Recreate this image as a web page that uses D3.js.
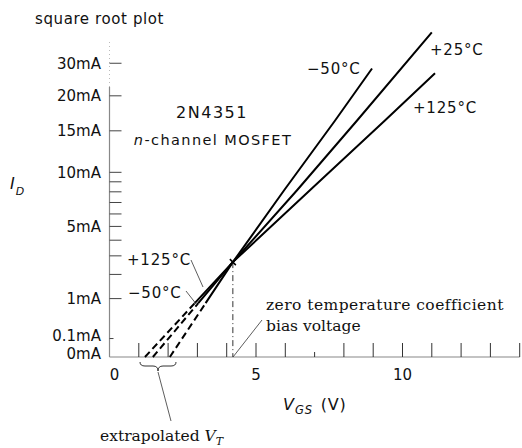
<!DOCTYPE html>
<html><head><meta charset="utf-8">
<script src="https://cdn.jsdelivr.net/npm/d3@7"></script>
<style>
body{margin:0;background:#fff;}
svg{display:block;}
.sans{font-family:"DejaVu Sans",sans-serif;fill:#111;}
.serif{font-family:"DejaVu Serif",serif;fill:#111;}
</style></head>
<body>
<svg id="chart" width="522" height="448"></svg>
<script>
// ---- data ----
const seriesNames = ["−50°C", "+25°C", "+125°C"];
const vgsM50  = [2.06, 3.28, 4.21, 5.96, 7.70, 8.96];
const idM50   = [0, 0.85, 2.64, 8.15, 16.4, 24.4];
const vgsP25  = [1.48, 3.03, 4.21, 6.40, 8.45, 11.0];
const idP25   = [0, 0.85, 2.64, 8.15, 16.4, 30.9];
const vgsP125 = [1.21, 2.91, 4.21, 6.84, 9.40, 11.11];
const idP125  = [0, 0.85, 2.64, 8.15, 16.4, 23.6];
const extrapolatedCount = 2;          // first points of each series are extrapolated (dashed)
const zeroTcV = 4.21, zeroTcI = 2.64; // zero temperature coefficient point

const xTickValues = [1,2,3,4,5,6,7,8,9,10,11,12,13,14];
const xLabelValues = [0, 5, 10];
const yTickValues = [0, 0.1, 1, 5, 10, 15, 20, 25.3];
const yTickLabels = ["0mA","0.1mA","1mA","5mA","10mA","15mA","20mA","30mA"];
const yMinorTicks = [2,3,4,6,7,8,9];

// ---- scales ----
const x = d3.scaleLinear().domain([0, 14]).range([109.5, 519.7]);
const y = d3.scaleSqrt().domain([0, 36]).range([357, 6.6]);

const svg = d3.select("#chart");

// title
svg.append("text").attr("class","sans").attr("x",35).attr("y",24)
  .attr("font-size",15).attr("letter-spacing",0.6).text("square root plot");

// y axis line
svg.append("line").attr("x1",x(0)).attr("x2",x(0)).attr("y1",y(0)).attr("y2",87)
  .attr("stroke","#888").attr("stroke-width",1.2);
svg.append("line").attr("x1",x(0)).attr("x2",x(0)).attr("y1",87).attr("y2",40)
  .attr("stroke","#bbb").attr("stroke-width",1).attr("stroke-dasharray","1,3");
// x axis line
svg.append("line").attr("x1",x(0)).attr("x2",x(14)).attr("y1",y(0)).attr("y2",y(0))
  .attr("stroke","#888").attr("stroke-width",1.2);

// y ticks
svg.append("g").selectAll("line").data(yTickValues.slice(1)).join("line")
  .attr("x1",x(0)).attr("x2",(d)=> d===0.1 ? x(0)+4 : x(0)+12)
  .attr("y1",d=>y(d)).attr("y2",d=>y(d)).attr("stroke","#444").attr("stroke-width",1);
svg.append("g").selectAll("line").data(yMinorTicks).join("line")
  .attr("x1",x(0)).attr("x2",x(0)+12)
  .attr("y1",d=>y(d)).attr("y2",d=>y(d)).attr("stroke","#444").attr("stroke-width",1);
svg.append("g").selectAll("text").data(yTickValues).join("text")
  .attr("class","sans").attr("font-size",15).attr("text-anchor","end")
  .attr("x",101).attr("y",(d)=>y(d) + (d<0.5 ? -3 : 0)).attr("dy","0.36em")
  .text((d,i)=>yTickLabels[i]);

// x ticks
svg.append("g").selectAll("line").data(xTickValues).join("line")
  .attr("x1",d=>x(d)).attr("x2",d=>x(d)).attr("y1",y(0))
  .attr("y2",d=> d===7 ? y(0)-5 : y(0)-14).attr("stroke","#333").attr("stroke-width",1);
svg.append("g").selectAll("text").data(xLabelValues).join("text")
  .attr("class","sans").attr("font-size",15).attr("text-anchor","middle")
  .attr("x",d=>x(d)+(d===0?5:0)).attr("y",380).text(d=>d);

// axis titles
const xt = svg.append("text").attr("class","sans").attr("x",283).attr("y",410).attr("font-size",16);
xt.append("tspan").attr("font-style","italic").text("V");
xt.append("tspan").attr("font-style","italic").attr("font-size",11.5).attr("dy",4).attr("dx",1).attr("letter-spacing",0.8).text("GS");
xt.append("tspan").attr("dy",-4).attr("dx",8).attr("letter-spacing",0.8).text("(V)");
const yt = svg.append("text").attr("class","sans").attr("x",10).attr("y",189).attr("font-size",16);
yt.append("tspan").attr("font-style","italic").text("I");
yt.append("tspan").attr("font-style","italic").attr("font-size",11).attr("dy",6).attr("dx",1).text("D");

// device label
svg.append("text").attr("class","sans").attr("x",212).attr("y",118).attr("font-size",16)
  .attr("text-anchor","middle").attr("letter-spacing",1.5).text("2N4351");
const dl = svg.append("text").attr("class","sans").attr("x",213).attr("y",145).attr("font-size",14.5)
  .attr("text-anchor","middle").attr("letter-spacing",1.4);
dl.append("tspan").attr("font-style","italic").text("n");
dl.append("tspan").text("-channel MOSFET");

// curves
const series = [
  {name: seriesNames[0], v: vgsM50, i: idM50},
  {name: seriesNames[1], v: vgsP25, i: idP25},
  {name: seriesNames[2], v: vgsP125, i: idP125}
];
const line = d3.line().x(d=>x(d[0])).y(d=>y(d[1]));
series.forEach(s=>{
  const pts = s.v.map((v,k)=>[v, s.i[k]]);
  svg.append("path").attr("d", line(pts.slice(0, extrapolatedCount)))
    .attr("fill","none").attr("stroke","#000").attr("stroke-width",2).attr("stroke-dasharray","7,4");
  svg.append("path").attr("d", line(pts.slice(extrapolatedCount-1)))
    .attr("fill","none").attr("stroke","#000").attr("stroke-width",2);
});

// zero TC marker and vertical dash-dot
svg.append("line").attr("x1",x(zeroTcV)).attr("x2",x(zeroTcV)).attr("y1",y(zeroTcI)).attr("y2",y(0))
  .attr("stroke","#333").attr("stroke-width",1).attr("stroke-dasharray","6,3,1,3");
const cx = x(zeroTcV), cy = y(zeroTcI);
svg.append("path").attr("d",`M${cx-3},${cy-3}L${cx+3},${cy+3}M${cx+3},${cy-3}L${cx-3},${cy+3}`)
  .attr("stroke","#000").attr("stroke-width",1.5);

// curve labels
const tl = [
  {t: seriesNames[0], x:307, y:74},
  {t: seriesNames[1], x:430, y:55},
  {t: seriesNames[2], x:413, y:113},
  {t: seriesNames[2], x:127, y:265},
  {t: seriesNames[0], x:128, y:298}
];
svg.append("g").selectAll("text").data(tl).join("text").attr("class","sans")
  .attr("font-size",15).attr("letter-spacing",0.8).attr("x",d=>d.x).attr("y",d=>d.y).text(d=>d.t);

// leaders
const leaders = [
  [191,260,203,287],
  [186,291,197,305],
  [262,320,233,357],
  [158,372,171,421]
];
svg.append("g").selectAll("line").data(leaders).join("line")
  .attr("x1",d=>d[0]).attr("y1",d=>d[1]).attr("x2",d=>d[2]).attr("y2",d=>d[3])
  .attr("stroke","#333").attr("stroke-width",0.8);

// brace for extrapolated V_T
svg.append("path").attr("d","M140,362 q0,4 5,4 h8 q5,0 5,5 q0,-5 5,-5 h8 q5,0 5,-4")
  .attr("fill","none").attr("stroke","#333").attr("stroke-width",1);

// annotations (serif)
svg.append("text").attr("class","serif").attr("x",266).attr("y",310).attr("font-size",15.5)
  .attr("letter-spacing",0.45).text("zero temperature coefficient");
svg.append("text").attr("class","serif").attr("x",266).attr("y",331).attr("font-size",15.5)
  .text("bias voltage");
const ex = svg.append("text").attr("class","serif").attr("x",100).attr("y",441).attr("font-size",15.5);
ex.append("tspan").text("extrapolated ");
ex.append("tspan").attr("font-style","italic").text("V");
ex.append("tspan").attr("font-style","italic").attr("font-size",11).attr("dy",4).text("T");
</script>
</body></html>
